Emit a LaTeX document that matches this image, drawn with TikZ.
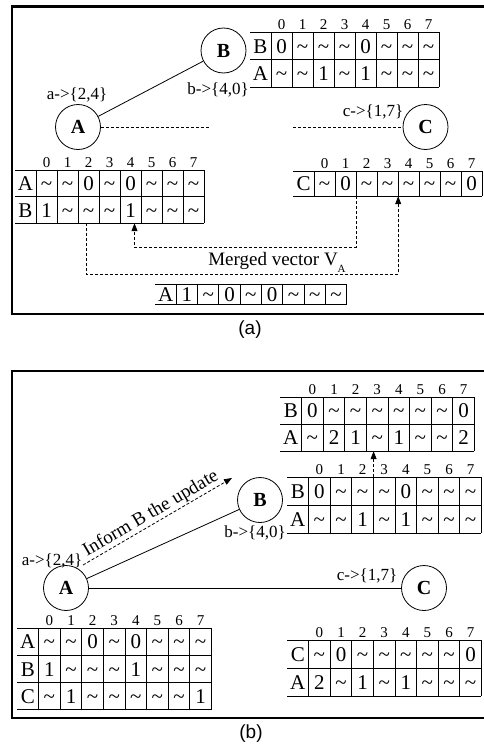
\documentclass[tikz,border=0pt]{standalone}
\usepackage{fontspec}
\setmainfont{Liberation Serif}
\newfontfamily\capfont{Liberation Sans}
\usetikzlibrary{arrows.meta}

\newcommand\tl{\textasciitilde}
\newcommand\fsz[1]{\fontsize{#1}{#1}\selectfont}

% #1 name, #2 left, #3 top, #4 cell width, #5 row height, #6 number of rows, #7 rows
\newcommand\celltable[7]{%
  \foreach \rowlist [count=\r] in {#7}{%
    \foreach \v [count=\c] in \rowlist{%
      \node[cell,minimum width=#4pt,minimum height=#5pt] (#1-\r-\c)
        at ({#2+(\c-0.5)*#4},{#3+(\r-0.5)*#5}) {\v};
    }%
  }%
  \foreach \k in {0,...,#6}{\draw[grid] ({#2},{#3+\k*#5}) -- ({#2+9*#4},{#3+\k*#5});}%
  \foreach \k in {1,...,9}{\draw[grid] ({#2+\k*#4},{#3}) -- ({#2+\k*#4},{#3+#6*#5});}%
}
% column numbers 0..7 above a table: #1 name, #2 left, #3 top, #4 cell width
\newcommand\colheads[4]{%
  \foreach \d in {0,...,7}{\node[head] (#1-h\d) at ({#2+(\d+1.5)*#4},{#3-3}) {\d};}%
}

\begin{document}
\begin{tikzpicture}[x=1pt,y=-1pt,
  vertex/.style={circle,draw,line width=0.8pt,minimum size=45pt,inner sep=0pt,font=\fsz{20}\bfseries},
  lbl/.style={inner sep=0pt,font=\fsz{17}},
  cell/.style={inner sep=0pt,text height=14.5pt,text depth=0pt,font=\fsz{21}},
  head/.style={inner sep=0pt,anchor=base,font=\fsz{15}},
  grid/.style={line width=0.9pt},
  frame/.style={line width=2.5pt},
  link/.style={line width=0.8pt},
  dlink/.style={line width=0.8pt,dash pattern=on 3pt off 2pt},
  flow/.style={line width=0.8pt,dash pattern=on 3pt off 2pt,-{Triangle[width=6pt,length=8pt]}},
  caption/.style={font=\capfont\fsz{19},inner sep=0pt}]

\useasboundingbox (0,0) rectangle (483,747);
\fill[white] (0,0) rectangle (483,747);

% ---------------- panel (a) ----------------
\draw[frame] (490,6.5) -- (12,6.5) -- (12,314) -- (490,314);

\node[vertex] (a-A) at (78,127) {A};
\node[vertex] (a-B) at (223.5,50.5) {B};
\node[vertex] (a-C) at (425.5,127) {C};
\node[lbl] (a-la) at (77,95) {a->\{2,4\}};
\node[lbl] (a-lb) at (218,90) {b->\{4,0\}};
\node[lbl] (a-lc) at (373,112) {c->\{1,7\}};

\draw[link] (a-A) -- (a-B);
\coordinate (a-gap1) at (209,127);
\coordinate (a-gap2) at (293,127);
\draw[dlink] (a-A.east) -- (a-gap1);
\draw[dlink] (a-gap2) -- (a-C.west);

\colheads{tb}{250}{32}{21}
\celltable{tb}{250}{32}{21}{27.5}{2}{{B,0,\tl,\tl,\tl,0,\tl,\tl,\tl},{A,\tl,\tl,1,\tl,1,\tl,\tl,\tl}}
\colheads{ta}{15}{170}{21}
\celltable{ta}{15}{170}{21}{26.5}{2}{{A,\tl,\tl,0,\tl,0,\tl,\tl,\tl},{B,1,\tl,\tl,\tl,1,\tl,\tl,\tl}}
\colheads{tc}{293}{171}{21}
\celltable{tc}{293}{171}{21}{25}{1}{{C,\tl,0,\tl,\tl,\tl,\tl,\tl,0}}
\celltable{tv}{155}{284}{21.3}{20}{1}{{A,1,\tl,0,\tl,0,\tl,\tl,\tl}}

\draw[flow] ([xshift=-2.5pt]ta-2-4.south) -- ++(0,51) -| (tc-1-5.south east);
\draw[flow] (tc-1-3.south east) -- ++(0,51) -| ([xshift=4pt]ta-2-6.south);
\node[inner sep=0pt,anchor=base,font=\fsz{19}] (a-mv) at (277,265)
  {Merged vector V\raisebox{-7pt}{\fsz{11}A}};

\node[caption] (a-cap) at (250,330) {(a)};

% ---------------- panel (b) ----------------
\draw[frame] (490,371) -- (12,371) -- (12,718) -- (490,718);

\node[vertex] (b-A) at (66,588) {A};
\node[vertex] (b-B) at (260,500) {B};
\node[vertex] (b-C) at (424,588) {C};
\node[lbl] (b-la) at (52,561) {a->\{2,4\}};
\node[lbl] (b-lb) at (255,533) {b->\{4,0\}};
\node[lbl] (b-lc) at (367,576) {c->\{1,7\}};

\draw[link] (b-A) -- (b-B);
\draw[link] (b-A) -- (b-C);

\coordinate (ib-s) at (83,565);
\coordinate (ib-e) at (232,478);
\draw[flow] (ib-s) -- (ib-e);
\node[inner sep=0pt,rotate=30.5,anchor=base west,font=\fsz{19}] (b-inf) at (87,557) {Inform B the update};

\colheads{tt}{280}{397}{21.6}
\celltable{tt}{280}{397}{21.6}{27}{2}{{B,0,\tl,\tl,\tl,\tl,\tl,\tl,0},{A,\tl,2,1,\tl,1,\tl,\tl,2}}
\colheads{tm}{287}{477}{21.6}
\celltable{tm}{287}{477}{21.6}{28}{2}{{B,0,\tl,\tl,\tl,0,\tl,\tl,\tl},{A,\tl,\tl,1,\tl,1,\tl,\tl,\tl}}
\colheads{bl}{17}{628}{21.6}
\celltable{bl}{17}{628}{21.6}{27.3}{3}{{A,\tl,\tl,0,\tl,0,\tl,\tl,\tl},{B,1,\tl,\tl,\tl,1,\tl,\tl,\tl},{C,\tl,1,\tl,\tl,\tl,\tl,\tl,1}}
\colheads{br}{287}{640}{21.6}
\celltable{br}{287}{640}{21.6}{28}{2}{{C,\tl,0,\tl,\tl,\tl,\tl,\tl,0},{A,2,\tl,1,\tl,1,\tl,\tl,\tl}}

\draw[flow] (tm-1-4.north east) -- (tm-1-4.north east |- tt-2-5.south);

\node[caption] (b-cap) at (251,734) {(b)};
\end{tikzpicture}
\end{document}
